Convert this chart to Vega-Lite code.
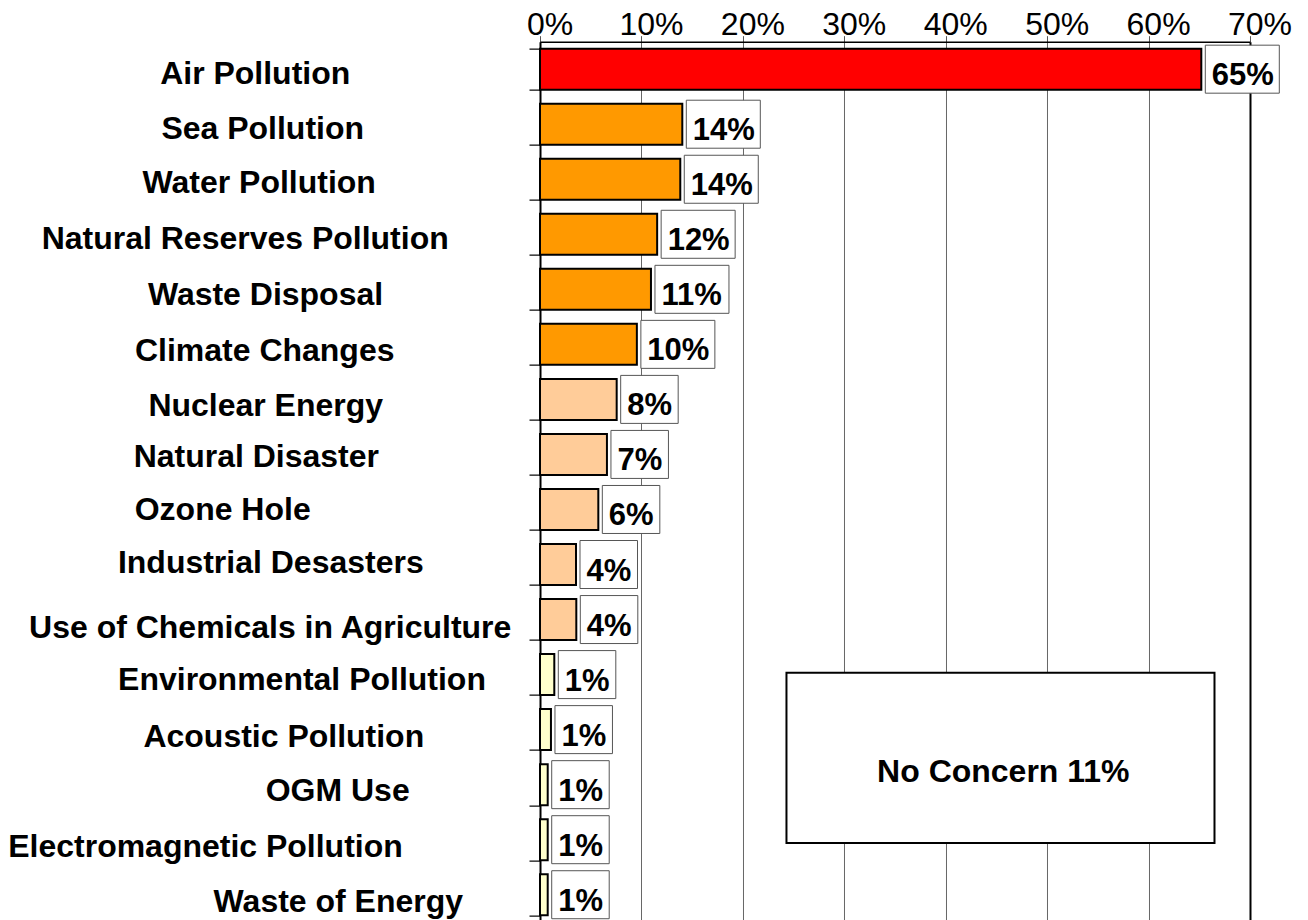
{
  "$schema": "https://vega.github.io/schema/vega-lite/v6.json",
  "width": 710,
  "height": 880.6,
  "autosize": {"type": "none"},
  "padding": {"left": 540, "top": 41.66, "right": 58, "bottom": 0},
  "background": "white",
  "config": {"view": {"stroke": null}, "font": "Liberation Sans"},
  "datasets": {
    "concerns": [
      {"concern": "Air Pollution", "value": 0.652},
      {"concern": "Sea Pollution", "value": 0.1403},
      {"concern": "Water Pollution", "value": 0.1383},
      {"concern": "Natural Reserves Pollution", "value": 0.1155},
      {"concern": "Waste Disposal", "value": 0.1094},
      {"concern": "Climate Changes", "value": 0.0955},
      {"concern": "Nuclear Energy", "value": 0.0756},
      {"concern": "Natural Disaster", "value": 0.066},
      {"concern": "Ozone Hole", "value": 0.0575},
      {"concern": "Industrial Desasters", "value": 0.0355},
      {"concern": "Use of Chemicals in Agriculture", "value": 0.0358},
      {"concern": "Environmental Pollution", "value": 0.0141},
      {"concern": "Acoustic Pollution", "value": 0.0108},
      {"concern": "OGM Use", "value": 0.0076},
      {"concern": "Electromagnetic Pollution", "value": 0.0076},
      {"concern": "Waste of Energy", "value": 0.0076}
    ],
    "note": [
      {"note": "No Concern 11%", "from": 0.243, "to": 0.665, "mid": 0.4568, "top": 11.465, "bottom": 14.56, "midRow": 13.01}
    ]
  },
  "layer": [
    {
      "data": {"name": "concerns"},
      "encoding": {
        "y": {
          "field": "concern",
          "type": "nominal",
          "sort": null,
          "title": null,
          "scale": {"paddingInner": 0.255, "paddingOuter": 0.1275},
          "axis": {
            "domain": true,
            "domainColor": "#000",
            "domainWidth": 2,
            "ticks": true,
            "tickSize": 11,
            "tickColor": "#333",
            "tickWidth": 1.5,
            "tickBand": "extent",
            "grid": false,
            "labelAlign": "center",
            "labelBaseline": "middle",
            "labelFont": "Liberation Sans",
            "labelFontSize": 32,
            "labelFontWeight": "bold",
            "labelColor": "#000",
            "labelLimit": 0,
            "labelOverlap": false,
            "labelPadding": {
              "condition": [
                {"test": "datum.value === 'Air Pollution'", "value": 274.3},
                {"test": "datum.value === 'Sea Pollution'", "value": 266.8},
                {"test": "datum.value === 'Water Pollution'", "value": 270.3},
                {"test": "datum.value === 'Natural Reserves Pollution'", "value": 284.3},
                {"test": "datum.value === 'Waste Disposal'", "value": 264},
                {"test": "datum.value === 'Climate Changes'", "value": 264.8},
                {"test": "datum.value === 'Nuclear Energy'", "value": 263.8},
                {"test": "datum.value === 'Natural Disaster'", "value": 273.2},
                {"test": "datum.value === 'Ozone Hole'", "value": 306.8},
                {"test": "datum.value === 'Industrial Desasters'", "value": 258.7},
                {"test": "datum.value === 'Use of Chemicals in Agriculture'", "value": 259.3},
                {"test": "datum.value === 'Environmental Pollution'", "value": 227.5},
                {"test": "datum.value === 'Acoustic Pollution'", "value": 245.7},
                {"test": "datum.value === 'OGM Use'", "value": 191.8},
                {"test": "datum.value === 'Electromagnetic Pollution'", "value": 324},
                {"test": "datum.value === 'Waste of Energy'", "value": 191.2}
              ],
              "value": 259
            },
            "labelOffset": {
              "condition": [
                {"test": "datum.value === 'Air Pollution'", "value": 4.4},
                {"test": "datum.value === 'Sea Pollution'", "value": 4.7},
                {"test": "datum.value === 'Water Pollution'", "value": 3.6},
                {"test": "datum.value === 'Natural Reserves Pollution'", "value": 4.2},
                {"test": "datum.value === 'Waste Disposal'", "value": 5.1},
                {"test": "datum.value === 'Climate Changes'", "value": 5.9},
                {"test": "datum.value === 'Nuclear Energy'", "value": 5.9},
                {"test": "datum.value === 'Natural Disaster'", "value": 2.3},
                {"test": "datum.value === 'Ozone Hole'", "value": -0.4},
                {"test": "datum.value === 'Industrial Desasters'", "value": -2},
                {"test": "datum.value === 'Use of Chemicals in Agriculture'", "value": 7.5},
                {"test": "datum.value === 'Environmental Pollution'", "value": 5.3},
                {"test": "datum.value === 'Acoustic Pollution'", "value": 7.3},
                {"test": "datum.value === 'OGM Use'", "value": 5.9},
                {"test": "datum.value === 'Electromagnetic Pollution'", "value": 7.1},
                {"test": "datum.value === 'Waste of Energy'", "value": 7}
              ],
              "value": 4
            }
          }
        }
      },
      "layer": [
        {
          "mark": {"type": "bar", "stroke": "#000", "strokeWidth": 2},
          "encoding": {
            "x": {
              "field": "value",
              "type": "quantitative",
              "title": null,
              "scale": {"domain": [0, 0.7], "nice": false, "zero": true},
              "axis": {
                "orient": "top",
                "values": [0, 0.1, 0.2, 0.3, 0.4, 0.5, 0.6, 0.7],
                "format": ".0%",
                "labelFont": "Liberation Sans",
                "labelFontSize": 32,
                "labelFontWeight": "normal",
                "labelColor": "#000",
                "labelPadding": -6,
                "labelOffset": 9.5,
                "labelFlush": false,
                "labelBound": false,
                "labelOverlap": false,
                "tickSize": 6,
                "tickColor": "#555",
                "tickWidth": 1,
                "domainColor": "#000",
                "domainWidth": 1.5,
                "grid": true,
                "gridColor": {"condition": {"test": "datum.value >= 0.69", "value": "#000"}, "value": "#666"},
                "gridWidth": {"condition": {"test": "datum.value >= 0.69", "value": 2}, "value": 1},
                "gridOpacity": 1
              }
            },
            "color": {
              "field": "value",
              "type": "quantitative",
              "scale": {"type": "threshold", "domain": [0.02, 0.09, 0.3], "range": ["#FFFFCC", "#FFCC99", "#FF9900", "#FF0000"]},
              "legend": null
            }
          }
        },
        {
          "transform": [{"filter": "datum.value >= 0.095"}],
          "mark": {"type": "bar", "fill": "white", "stroke": "#555", "strokeWidth": 1, "height": 48, "xOffset": 4, "x2Offset": 78},
          "encoding": {
            "x": {"field": "value", "type": "quantitative", "title": null},
            "x2": {"field": "value"}
          }
        },
        {
          "transform": [{"filter": "datum.value < 0.095"}],
          "mark": {"type": "bar", "fill": "white", "stroke": "#555", "strokeWidth": 1, "height": 48, "xOffset": 4, "x2Offset": 61.5},
          "encoding": {
            "x": {"field": "value", "type": "quantitative", "title": null},
            "x2": {"field": "value"}
          }
        },
        {
          "mark": {"type": "text", "align": "left", "baseline": "alphabetic", "dx": 10.5, "dy": 16, "font": "Liberation Sans", "fontSize": 31, "fontWeight": "bold", "color": "#000"},
          "encoding": {
            "x": {"field": "value", "type": "quantitative", "title": null},
            "text": {"field": "value", "type": "quantitative", "format": ".0%"}
          }
        }
      ]
    },
    {
      "data": {"name": "note"},
      "layer": [
        {
          "mark": {"type": "rect", "fill": "white", "stroke": "#000", "strokeWidth": 2},
          "encoding": {
            "x": {"field": "from", "type": "quantitative", "title": null},
            "x2": {"field": "to"},
            "y": {"field": "top", "type": "quantitative", "title": null, "scale": {"domain": [0, 16], "reverse": true, "nice": false, "zero": true}, "axis": null},
            "y2": {"field": "bottom"}
          }
        },
        {
          "mark": {"type": "text", "align": "center", "baseline": "middle", "dy": 14, "font": "Liberation Sans", "fontSize": 32, "fontWeight": "bold", "color": "#000"},
          "encoding": {
            "x": {"field": "mid", "type": "quantitative", "title": null},
            "y": {"field": "midRow", "type": "quantitative", "title": null, "scale": {"domain": [0, 16], "reverse": true, "nice": false, "zero": true}, "axis": null},
            "text": {"field": "note"}
          }
        }
      ]
    }
  ],
  "resolve": {"scale": {"y": "independent"}}
}
